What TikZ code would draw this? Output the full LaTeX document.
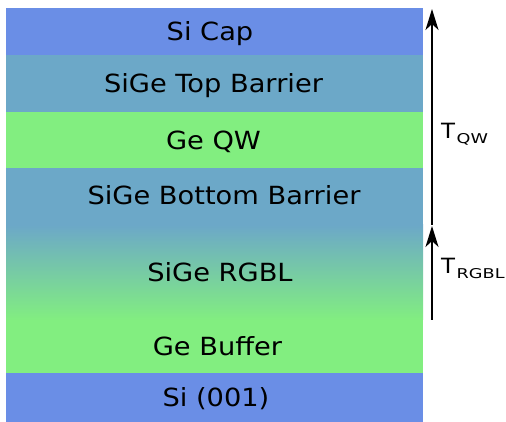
\documentclass[tikz,border=0pt]{standalone}
\usepackage{fontspec}
\setmainfont[FakeStretch=1.09]{DejaVu Sans}
\usetikzlibrary{arrows.meta}
\definecolor{siblue}{RGB}{106,142,230}
\definecolor{barrier}{RGB}{108,168,200}
\definecolor{gegreen}{RGB}{130,238,128}
\tikzset{
  layertext/.style={anchor=base, inner sep=0pt, font=\fontsize{25}{29}\selectfont, text=black},
  thick label/.style={anchor=base west, inner sep=0pt, font=\fontsize{21}{24}\selectfont},
  heightarrow/.style={line width=2pt, -{Stealth[length=21pt,width=13pt,inset=6pt]}},
}
\newcommand{\subtxt}[1]{\kern1.5pt\raisebox{-5.5pt}{\scalebox{1.2}[1]{\fontsize{13.5}{15}\selectfont #1}}}
\begin{document}
\begin{tikzpicture}[x=1pt,y=1pt]
  \useasboundingbox (0,0) rectangle (506,422);
  % layer stack, bottom to top
  \fill[siblue]  (6,0)   rectangle (423,49);
  \fill[gegreen] (6,49)  rectangle (423,102);
  \shade[bottom color=gegreen, top color=barrier] (6,102) rectangle (423,197);
  \fill[barrier] (6,197) rectangle (423,254);
  \fill[gegreen] (6,254) rectangle (423,310);
  \fill[barrier] (6,310) rectangle (423,367);
  \fill[siblue]  (6,367) rectangle (423,414);
  % layer names
  \node[layertext] (cap)  at (210,381.6)   {Si Cap};
  \node[layertext] (tb)   at (213.5,329.4) {SiGe Top Barrier};
  \node[layertext] (qw)   at (213.5,272.9) {Ge QW};
  \node[layertext] (bb)   at (224,217.4)   {SiGe Bottom Barrier};
  \node[layertext] (rgbl) at (220,140.6)   {SiGe RGBL};
  \node[layertext] (buf)  at (217.5,66.6)  {Ge Buffer};
  \node[layertext] (sub)  at (216,15.6)    {Si (001)};
  % thickness arrows
  \coordinate (rgblbot) at (432,102);
  \coordinate (rgbltop) at (432,196);
  \coordinate (qwbot)   at (432,197);
  \coordinate (qwtop)   at (432,413);
  \draw[heightarrow] (rgblbot) -- (rgbltop);
  \draw[heightarrow] (qwbot) -- (qwtop);
  \node[thick label] (tqw)   at (441,283.5) {T\subtxt{QW}};
  \node[thick label] (trgbl) at (441,148.5) {T\subtxt{RGBL}};
\end{tikzpicture}
\end{document}
